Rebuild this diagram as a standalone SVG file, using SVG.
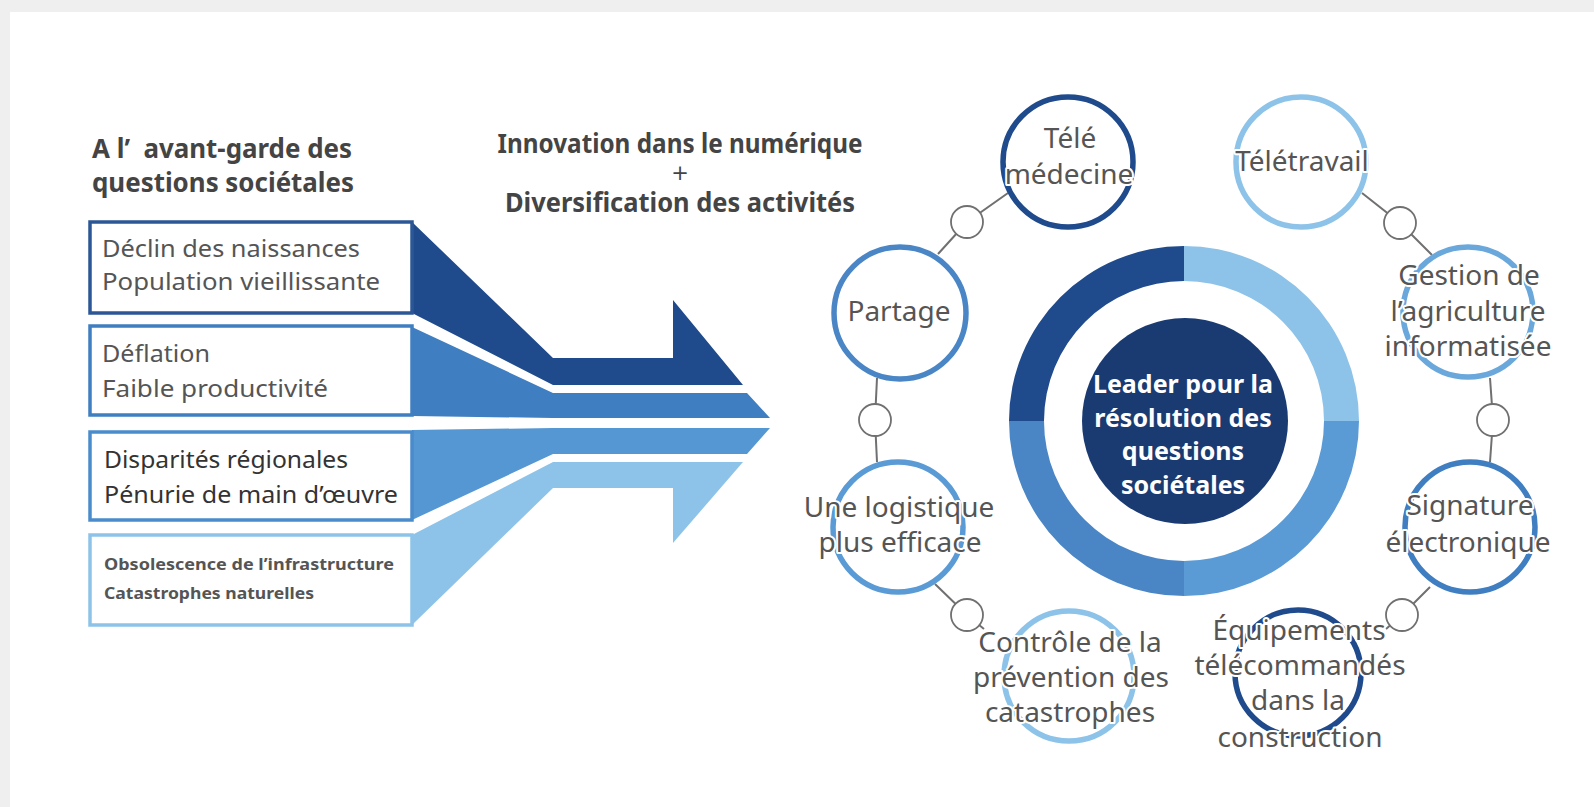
<svg xmlns="http://www.w3.org/2000/svg" width="1594" height="807" viewBox="0 0 1594 807">
<style>
  .hdr{font-family:"Noto Sans","Open Sans",sans-serif;font-weight:bold;fill:#444;font-size:26px}
  .box{fill:#fff;stroke-width:3.5}
  .btxt{font-family:"Noto Sans","Open Sans",sans-serif;fill:#555;font-size:24px}
  .node{fill:#fff;stroke-width:5.5}
  .lbl{font-family:"Noto Sans","Open Sans",sans-serif;fill:#555;font-size:28px;text-anchor:middle;stroke:#fff;stroke-width:4;paint-order:stroke;stroke-linejoin:round}
  .ctr{font-family:"Noto Sans","Open Sans",sans-serif;font-weight:bold;fill:#fff;font-size:25px;text-anchor:middle}
  .conn{fill:none;stroke:#707070;stroke-width:2}
  .dot{fill:#fff;stroke:#707070;stroke-width:1.8}
</style>
<rect x="0" y="0" width="1594" height="807" fill="#efefef"/>
<rect x="10" y="12" width="1584" height="795" fill="#ffffff"/>

<g id="header">
  <text class="hdr" x="92" y="158" textLength="260" lengthAdjust="spacingAndGlyphs">A l’&#160; avant-garde des</text>
  <text class="hdr" x="92" y="192" textLength="262" lengthAdjust="spacingAndGlyphs">questions sociétales</text>
  <text class="hdr" x="680" y="153" text-anchor="middle" textLength="365" lengthAdjust="spacingAndGlyphs">Innovation dans le numérique</text>
  <text x="680" y="180" text-anchor="middle" font-family="'DejaVu Sans',sans-serif" font-size="21" fill="#444">+</text>
  <text class="hdr" x="680" y="212" text-anchor="middle" textLength="350" lengthAdjust="spacingAndGlyphs">Diversification des activités</text>
</g>

<g id="bands">
  <polygon points="412,222 553,358 673,358 673,300 743,385 553,385 412,313" fill="#1f4a8c"/>
  <polygon points="412,327 553,393 747,393 770,418 553,418 412,416" fill="#3f7ec0"/>
  <polygon points="412,430 553,428 770,428 747,454 553,454 412,520" fill="#5597d3"/>
  <polygon points="412,535 553,462 743,462 673,543 673,488 553,488 412,625" fill="#8dc3e9"/>
</g>

<g id="box1">
  <rect class="box" x="90" y="222" width="322" height="91" stroke="#2c5797"/>
  <text class="btxt" x="102" y="257" textLength="258" lengthAdjust="spacingAndGlyphs">Déclin des naissances</text>
  <text class="btxt" x="102" y="290" textLength="278" lengthAdjust="spacingAndGlyphs">Population vieillissante</text>
</g>
<g id="box2">
  <rect class="box" x="90" y="326" width="322" height="89" stroke="#3f7ec0"/>
  <text class="btxt" x="102" y="362" textLength="108" lengthAdjust="spacingAndGlyphs">Déflation</text>
  <text class="btxt" x="102" y="397" textLength="226" lengthAdjust="spacingAndGlyphs">Faible productivité</text>
</g>
<g id="box3">
  <rect class="box" x="90" y="432" width="322" height="88" stroke="#4a8ccb"/>
  <text class="btxt" x="104" y="468" style="fill:#333" textLength="244" lengthAdjust="spacingAndGlyphs">Disparités régionales</text>
  <text class="btxt" x="104" y="503" style="fill:#333" textLength="294" lengthAdjust="spacingAndGlyphs">Pénurie de main d’œuvre</text>
</g>
<g id="box4">
  <rect class="box" x="90" y="535" width="322" height="90" stroke="#8dc3e9"/>
  <text class="btxt" x="104" y="570" font-weight="bold" style="font-size:16px" textLength="290" lengthAdjust="spacingAndGlyphs">Obsolescence de l’infrastructure</text>
  <text class="btxt" x="104" y="599" font-weight="bold" style="font-size:16px" textLength="210" lengthAdjust="spacingAndGlyphs">Catastrophes naturelles</text>
</g>

<g id="center">
  <path d="M1184 246 A175 175 0 0 0 1009 421 L1044 421 A140 140 0 0 1 1184 281 Z" fill="#1f4a8c"/>
  <path d="M1184 246 A175 175 0 0 1 1359 421 L1324 421 A140 140 0 0 0 1184 281 Z" fill="#8dc3e9"/>
  <path d="M1359 421 A175 175 0 0 1 1184 596 L1184 561 A140 140 0 0 0 1324 421 Z" fill="#5a9bd6"/>
  <path d="M1184 596 A175 175 0 0 1 1009 421 L1044 421 A140 140 0 0 0 1184 561 Z" fill="#4a86c6"/>
  <circle cx="1185" cy="421" r="103" fill="#1a3a72"/>
  <text class="ctr" x="1183" y="393">Leader pour la</text>
  <text class="ctr" x="1183" y="427">résolution des</text>
  <text class="ctr" x="1183" y="460">questions</text>
  <text class="ctr" x="1183" y="494">sociétales</text>
</g>

<g id="connectors">
  <polyline class="conn" points="1008,193 967,222 938,254"/>
  <polyline class="conn" points="877,378 875,420 877,462"/>
  <polyline class="conn" points="935,584 967,615 984,629"/>
  <polyline class="conn" points="1362,193 1400,223 1432,255"/>
  <polyline class="conn" points="1490,378 1493,420 1490,462"/>
  <polyline class="conn" points="1430,587 1402,615 1386,629"/>
  <circle class="dot" cx="967" cy="222" r="16"/>
  <circle class="dot" cx="875" cy="420" r="16"/>
  <circle class="dot" cx="967" cy="615" r="16"/>
  <circle class="dot" cx="1400" cy="223" r="16"/>
  <circle class="dot" cx="1493" cy="420" r="16"/>
  <circle class="dot" cx="1402" cy="615" r="16"/>
</g>

<g id="n-telemedecine">
  <circle class="node" cx="1068" cy="162" r="65" stroke="#1f4a8c"/>
  <text class="lbl" x="1070" y="148">Télé</text>
  <text class="lbl" x="1069" y="184">médecine</text>
</g>
<g id="n-teletravail">
  <circle class="node" cx="1301" cy="162" r="65" stroke="#8dc3e9"/>
  <text class="lbl" x="1302" y="171">Télétravail</text>
</g>
<g id="n-partage">
  <circle class="node" cx="900" cy="313" r="66" stroke="#4a86c6"/>
  <text class="lbl" x="899" y="321">Partage</text>
</g>
<g id="n-gestion">
  <circle class="node" cx="1468" cy="312" r="65" stroke="#6aa8dc"/>
  <text class="lbl" x="1469" y="285">Gestion de</text>
  <text class="lbl" x="1468" y="321">l’agriculture</text>
  <text class="lbl" x="1468" y="356">informatisée</text>
</g>
<g id="n-logistique">
  <circle class="node" cx="898" cy="527" r="65" stroke="#5a9bd6"/>
  <text class="lbl" x="899" y="517">Une logistique</text>
  <text class="lbl" x="900" y="552">plus efficace</text>
</g>
<g id="n-signature">
  <circle class="node" cx="1470" cy="527" r="65" stroke="#3f7ec0"/>
  <text class="lbl" x="1470" y="515">Signature</text>
  <text class="lbl" x="1468" y="552">électronique</text>
</g>
<g id="n-controle">
  <circle class="node" cx="1069" cy="676" r="65" stroke="#8dc3e9"/>
  <text class="lbl" x="1070" y="652">Contrôle de la</text>
  <text class="lbl" x="1071" y="687">prévention des</text>
  <text class="lbl" x="1070" y="722">catastrophes</text>
</g>
<g id="n-equipements">
  <circle class="node" cx="1298" cy="673" r="63" stroke="#1f4a8c"/>
  <text class="lbl" x="1299" y="640">Équipements</text>
  <text class="lbl" x="1300" y="675">télécommandés</text>
  <text class="lbl" x="1298" y="710">dans la</text>
  <text class="lbl" x="1300" y="747">construction</text>
</g>
</svg>
